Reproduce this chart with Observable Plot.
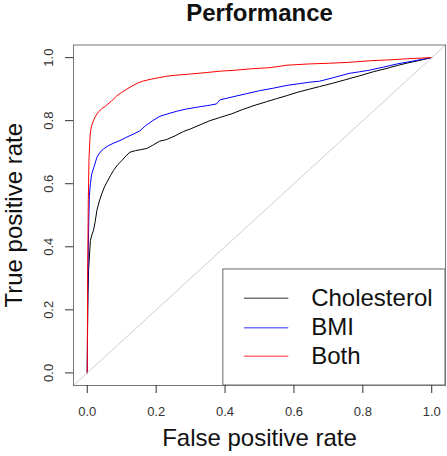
<!DOCTYPE html>
<html>
<head>
<meta charset="utf-8">
<script src="https://cdn.jsdelivr.net/npm/d3@7"></script>
<script src="https://cdn.jsdelivr.net/npm/@observablehq/plot@0.6"></script>
<style>
  html, body { margin: 0; padding: 0; background: #fff; }
  svg { display: block; }
</style>
</head>
<body>
<div id="chart"></div>
<script>
const title = "Performance";
const xLabel = "False positive rate";
const yLabel = "True positive rate";
const xTicks = [0, 0.2, 0.4, 0.6, 0.8, 1.0];
const yTicks = [0, 0.2, 0.4, 0.6, 0.8, 1.0];
const seriesNames = ["Cholesterol", "BMI", "Both"];
const seriesColors = ["#000000", "#0000ff", "#ff0000"];

const cholFpr = [0, 0.001, 0.002, 0.004, 0.009, 0.014, 0.018, 0.023, 0.028, 0.035, 0.042, 0.05, 0.057, 0.067, 0.076, 0.088, 0.1, 0.112, 0.124, 0.14, 0.155, 0.173, 0.19, 0.21, 0.23, 0.255, 0.28, 0.3, 0.33, 0.356, 0.385, 0.42, 0.45, 0.481, 0.52, 0.55, 0.578, 0.61, 0.645, 0.674, 0.71, 0.75, 0.79, 0.83, 0.87, 0.9, 0.93, 0.96, 0.98, 1.0];
const cholTpr = [0, 0.15, 0.25, 0.33, 0.42, 0.44, 0.452, 0.48, 0.516, 0.545, 0.568, 0.59, 0.605, 0.625, 0.642, 0.66, 0.673, 0.688, 0.7, 0.705, 0.708, 0.712, 0.722, 0.735, 0.74, 0.752, 0.766, 0.774, 0.788, 0.8, 0.81, 0.822, 0.835, 0.847, 0.86, 0.87, 0.879, 0.89, 0.9, 0.908, 0.918, 0.93, 0.942, 0.955, 0.966, 0.975, 0.983, 0.99, 0.995, 1.0];

const bmiFpr = [0, 0.001, 0.002, 0.003, 0.004, 0.006, 0.009, 0.013, 0.02, 0.028, 0.037, 0.047, 0.06, 0.075, 0.095, 0.115, 0.135, 0.153, 0.17, 0.19, 0.211, 0.235, 0.26, 0.288, 0.32, 0.35, 0.375, 0.385, 0.42, 0.46, 0.5, 0.54, 0.58, 0.62, 0.645, 0.674, 0.72, 0.76, 0.79, 0.819, 0.86, 0.9, 0.94, 0.97, 1.0];
const bmiTpr = [0, 0.2, 0.3, 0.39, 0.46, 0.56, 0.6, 0.632, 0.655, 0.684, 0.7, 0.71, 0.72, 0.728, 0.737, 0.748, 0.758, 0.768, 0.785, 0.8, 0.814, 0.822, 0.83, 0.837, 0.843, 0.848, 0.853, 0.866, 0.875, 0.885, 0.895, 0.903, 0.912, 0.918, 0.922, 0.925, 0.938, 0.95, 0.955, 0.96, 0.97, 0.98, 0.988, 0.994, 1.0];

const bothFpr = [0, 0.001, 0.003, 0.005, 0.008, 0.01, 0.013, 0.018, 0.023, 0.028, 0.033, 0.042, 0.052, 0.06, 0.071, 0.085, 0.1, 0.115, 0.13, 0.148, 0.163, 0.187, 0.211, 0.23, 0.255, 0.3, 0.35, 0.385, 0.43, 0.48, 0.53, 0.58, 0.645, 0.7, 0.76, 0.82, 0.88, 0.94, 1.0];
const bothTpr = [0, 0.3, 0.55, 0.68, 0.75, 0.77, 0.785, 0.8, 0.812, 0.821, 0.828, 0.838, 0.845, 0.853, 0.863, 0.878, 0.89, 0.9, 0.91, 0.92, 0.926, 0.932, 0.937, 0.941, 0.944, 0.948, 0.953, 0.957, 0.96, 0.965, 0.968, 0.976, 0.98, 0.982, 0.985, 0.99, 0.993, 0.997, 1.0];

const domain = [-0.04, 1.04];

const curves = [
  ...cholFpr.map((x, i) => ({series: seriesNames[0], fpr: x, tpr: cholTpr[i]})),
  ...bmiFpr.map((x, i) => ({series: seriesNames[1], fpr: x, tpr: bmiTpr[i]})),
  ...bothFpr.map((x, i) => ({series: seriesNames[2], fpr: x, tpr: bothTpr[i]}))
];
const diagonal = [{v: domain[0]}, {v: domain[1]}];

// legend layout (data units inside the frame, bottom-right like R's legend)
const legendLeft = 0.395, legendTop = 0.328;
const legendRows = [0.237, 0.143, 0.053];
const legendLineX = [0.456, 0.585], legendTextX = 0.65;
const legend = seriesNames.map((s, i) => ({series: s, y: legendRows[i], color: seriesColors[i]}));

const fmt = d3.format(".1f");
const font = "'Liberation Sans', Arial, Helvetica, sans-serif";

const chart = Plot.plot({
  width: 447,
  height: 456,
  marginLeft: 73,
  marginRight: 2,
  marginTop: 44.5,
  marginBottom: 71,
  style: {fontFamily: font, background: "#fff", overflow: "visible"},
  x: {domain, label: null},
  y: {domain, label: null},
  color: {domain: seriesNames, range: seriesColors},
  marks: [
    Plot.line(curves, {x: "fpr", y: "tpr", z: "series", stroke: "series", strokeWidth: 1, curve: "linear"}),
    Plot.line(diagonal, {x: "v", y: "v", stroke: "#cfcfcf", strokeWidth: 1}),
    Plot.rect([0], {x1: legendLeft, x2: domain[1], y1: domain[0], y2: legendTop, fill: "#fff", stroke: "#666", strokeWidth: 1}),
    Plot.ruleY(legend, {y: "y", x1: legendLineX[0], x2: legendLineX[1], stroke: "color", strokeWidth: 1.5, strokeOpacity: 0.55}),
    Plot.text(legend, {x: legendTextX, y: "y", text: "series", textAnchor: "start", lineAnchor: "middle", fontSize: 24, fill: "#111"}),
    Plot.frame({stroke: "#777", strokeWidth: 1}),
    Plot.axisX({ticks: xTicks, tickFormat: fmt, tickSize: 8, tickPadding: 13, fontSize: 13, color: "#333", label: null}),
    Plot.axisY({ticks: yTicks, tickFormat: () => "", tickSize: 8, label: null, color: "#333"}),
    Plot.text(yTicks, {y: d => d, text: d => fmt(d), frameAnchor: "left", dx: -24.5, rotate: -90, textAnchor: "middle", lineAnchor: "middle", fontSize: 13, fill: "#333"}),
    Plot.text([xLabel], {text: d => d, frameAnchor: "bottom", dy: 53.3, textAnchor: "middle", lineAnchor: "middle", fontSize: 24, fill: "#111"}),
    Plot.text([yLabel], {text: d => d, frameAnchor: "left", dx: -59.5, rotate: -90, textAnchor: "middle", lineAnchor: "middle", fontSize: 24, fill: "#111"}),
    Plot.text([title], {text: d => d, frameAnchor: "top", dy: -31.5, textAnchor: "middle", lineAnchor: "middle", fontSize: 24, fontWeight: "bold", fill: "#111"})
  ]
});
document.getElementById("chart").appendChild(chart);
</script>
</body>
</html>
